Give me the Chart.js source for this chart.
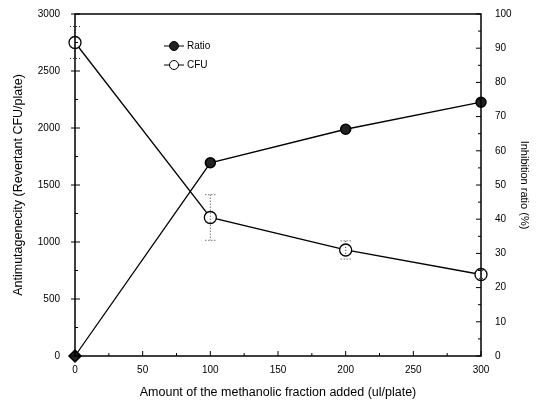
<!DOCTYPE html>
<html>
<head>
<meta charset="utf-8">
<script src="https://cdn.jsdelivr.net/npm/chart.js@4/dist/chart.umd.min.js"></script>
<style>
  html, body { margin: 0; padding: 0; background: #fff; }
  #wrap { width: 539px; height: 405px; }
</style>
</head>
<body>
<div id="wrap"><canvas id="myChart" width="539" height="405"></canvas></div>
<script>
// values
const amounts = [0, 100, 200, 300];
const cfuValues = [2750, 1215, 930, 715];
const cfuErrors = [140, 200, 80, 35];
const ratioValues = [0, 56.5, 66.3, 74.2];
const ratioMarkers = ['rectRot', 'circle', 'circle', 'circle'];

const tickFont = { family: 'Liberation Sans', size: 10 };
const plainTick = (v) => String(v);

let toPoints = ((xs, ys) => xs.map((x, i) => ({ x: x, y: ys[i] })));

// dotted error bars on the CFU series
const errorBars = {
  id: 'errorBars',
  afterDatasetsDraw(chart) {
    let ctx = chart.ctx;
    let xs = chart.scales.x;
    let ys = chart.scales.y;
    ctx.save();
    ctx.strokeStyle = '#333';
    ctx.lineWidth = 1;
    amounts.forEach((a, i) => {
      let px = xs.getPixelForValue(a);
      let top = ys.getPixelForValue(cfuValues[i] + cfuErrors[i]);
      let bot = ys.getPixelForValue(cfuValues[i] - cfuErrors[i]);
      ctx.setLineDash([1, 2]);
      ctx.beginPath();
      ctx.moveTo(px, top); ctx.lineTo(px, bot);
      ctx.moveTo(px - 5, top); ctx.lineTo(px + 5, top);
      ctx.moveTo(px - 5, bot); ctx.lineTo(px + 5, bot);
      ctx.stroke();
    });
    ctx.restore();
  }
};

// frame, inward minor/major ticks and the legend inside the plot
const frame = {
  id: 'frame',
  afterDraw(chart) {
    let ctx = chart.ctx;
    let a = chart.chartArea;
    ctx.save();
    ctx.strokeStyle = '#000';
    ctx.lineWidth = 1.5;
    ctx.strokeRect(a.left, a.top, a.right - a.left, a.bottom - a.top);
    ctx.lineWidth = 1;
    ctx.beginPath();
    let xs = chart.scales.x;
    for (let v = 0; v <= 300; v += 25) {
      let px = xs.getPixelForValue(v);
      let len = v % 50 === 0 ? 5 : 3;
      ctx.moveTo(px, a.bottom); ctx.lineTo(px, a.bottom - len);
    }
    let ys = chart.scales.y;
    for (let v = 0; v <= 3000; v += 250) {
      let py = ys.getPixelForValue(v);
      let len = v % 500 === 0 ? 5 : 3;
      ctx.moveTo(a.left, py); ctx.lineTo(a.left + len, py);
      if (v % 500 === 0) { ctx.moveTo(a.left, py); ctx.lineTo(a.left - 4, py); }
    }
    let y1 = chart.scales.y1;
    for (let v = 0; v <= 100; v += 5) {
      let py = y1.getPixelForValue(v);
      let len = v % 10 === 0 ? 5 : 3;
      ctx.moveTo(a.right, py); ctx.lineTo(a.right - len, py);
    }
    ctx.stroke();

    // legend
    let items = ['Ratio', 'CFU'];
    ctx.font = '10px "Liberation Sans"';
    ctx.textBaseline = 'middle';
    items.forEach((label, i) => {
      let ly = 46 + i * 19;
      let lx = 164;
      ctx.beginPath();
      ctx.moveTo(lx, ly); ctx.lineTo(lx + 20, ly);
      ctx.stroke();
      ctx.beginPath();
      ctx.arc(lx + 10, ly, 4.5, 0, Math.PI * 2);
      ctx.fillStyle = i === 0 ? '#222' : '#fff';
      ctx.fill();
      ctx.stroke();
      ctx.fillStyle = '#000';
      ctx.fillText(label, lx + 23, ly);
    });
    ctx.restore();
  }
};

let ctx = document.getElementById('myChart').getContext('2d');
let chart = new Chart(ctx, {
  type: 'line',
  data: {
    datasets: [{
      label: 'Ratio',
      data: toPoints(amounts, ratioValues),
      yAxisID: 'y1',
      borderColor: '#000',
      borderWidth: 1.3,
      backgroundColor: '#222',
      pointBorderColor: '#000',
      pointStyle: ratioMarkers,
      pointRadius: [6, 5, 5, 5],
      pointBorderWidth: 1.5,
      tension: 0
    }, {
      label: 'CFU',
      data: toPoints(amounts, cfuValues),
      yAxisID: 'y',
      borderColor: '#000',
      borderWidth: 1.3,
      backgroundColor: '#fff',
      pointBorderColor: '#000',
      pointRadius: 6,
      pointBorderWidth: 1.3,
      tension: 0
    }]
  },
  options: {
    responsive: false,
    animation: false,
    clip: false,
    layout: { padding: { top: 14, right: 4, bottom: 5, left: 7 } },
    plugins: {
      legend: { display: false },
      tooltip: { enabled: false }
    },
    scales: {
      x: {
        type: 'linear',
        min: 0, max: 300,
        grid: { display: false },
        border: { display: false },
        ticks: { stepSize: 50, color: '#000', font: tickFont, padding: 0, maxRotation: 0, callback: plainTick },
        title: { display: true, text: 'Amount of the methanolic fraction added (ul/plate)', color: '#000',
                 font: { family: 'Liberation Sans', size: 12.5 }, padding: { top: 4, bottom: 0 } },
        afterFit: (s) => { s.height = 44; }
      },
      y: {
        position: 'left',
        min: 0, max: 3000,
        grid: { display: false },
        border: { display: false },
        ticks: { stepSize: 500, color: '#000', font: tickFont, padding: 7, callback: plainTick },
        title: { display: true, text: 'Antimutagenecity (Revertant CFU/plate)', color: '#000',
                 font: { family: 'Liberation Sans', size: 12.5 }, padding: { top: 4, bottom: 0 } },
        afterFit: (s) => { s.width = 68; }
      },
      y1: {
        position: 'right',
        min: 0, max: 100,
        grid: { display: false },
        border: { display: false },
        ticks: { stepSize: 10, color: '#000', font: tickFont, padding: 6, callback: plainTick },
        title: { display: true, text: 'Inhibition ratio (%)', color: '#000',
                 font: { family: 'Liberation Sans', size: 11 }, padding: { top: 4, bottom: 0 } },
        afterFit: (s) => { s.width = 54; }
      }
    }
  },
  plugins: [errorBars, frame]
});
</script>
</body>
</html>
